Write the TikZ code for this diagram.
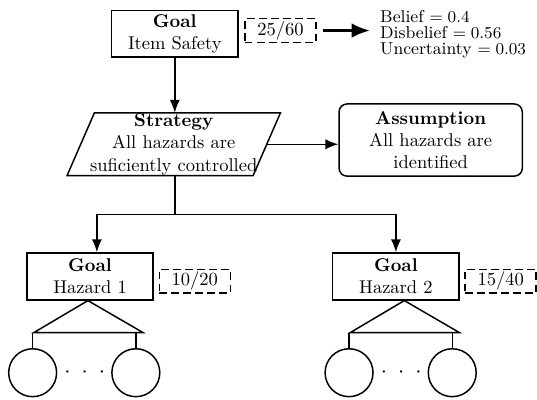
\documentclass[tikz,border=0pt]{standalone}
\usepackage{amsmath}
\usepackage{amssymb}
\usepackage{tikz}
\usetikzlibrary{arrows,arrows.meta,shapes,calc,positioning}
\tikzstyle{edge}  =[-{Latex[length=7pt,width=5.5pt]}, line width=0.8pt]
\tikzstyle{link}  =[line width=0.8pt]
\tikzstyle{goal}  =[rectangle, draw, line width=0.8pt, align=center,
                    minimum width=2.4cm, minimum height=0.89cm,
                    inner sep=1pt]
\tikzstyle{strat} =[rectangle, align=center, minimum width=3.52cm,
                    minimum height=1.18cm, inner sep=0pt]
\tikzstyle{assum} =[rectangle, draw, rounded corners=0.15cm,
                    line width=0.8pt, align=center,
                    minimum width=3.48cm, minimum height=1.37cm]
\tikzstyle{ratio} =[rectangle, draw, dash pattern=on 4pt off 2.5pt,
                    line width=0.8pt, minimum width=1.35cm,
                    minimum height=0.45cm, inner sep=1pt]
\tikzstyle{leaf}  =[circle, draw, line width=0.8pt,
                    minimum size=0.91cm, inner sep=0pt]

\begin{document}
\begin{tikzpicture}
\useasboundingbox (0,0) rectangle (10.20,-7.58);
%%%%%%%%%%%%%%%%%%%%%%%%%%%%%%%%%%%%%%%%%%%%%%%%
%%%%%%%%%%         Top Goal           %%%%%%%%%%
%%%%%%%%%%%%%%%%%%%%%%%%%%%%%%%%%%%%%%%%%%%%%%%%
\node (g0) [goal] at (3.32,-0.64) {\textbf{Goal}\\Item Safety};
\node (v0) [ratio] at (5.33,-0.58) {$25/60$};
\node (op) [anchor=west, align=left, inner sep=1pt,
            font={\fontsize{9.3}{8.9}\selectfont}] at (7.18,-0.65)
      {Belief $= 0.4$\\Disbelief $= 0.56$\\Uncertainty $= 0.03$};
\draw [-{Latex[length=10pt,width=8pt]}, line width=1.8pt,
       shorten <=0.11cm, shorten >=0.15cm] (v0.east) -- (v0.east -| op.west);

%%%%%%%%%%%%%%%%%%%%%%%%%%%%%%%%%%%%%%%%%%%%%%%%
%%%%%%%%%%    Strategy & Assumption   %%%%%%%%%%
%%%%%%%%%%%%%%%%%%%%%%%%%%%%%%%%%%%%%%%%%%%%%%%%
\node (strat) [strat] at (3.30,-2.74)
      {\textbf{Strategy}\\All hazards are\\suficiently controlled};
\draw [link] ($(strat.north west)+(0.26,0)$) -- ($(strat.north east)+(0.26,0)$)
          -- ($(strat.south east)-(0.26,0)$) -- ($(strat.south west)-(0.26,0)$)
          -- cycle;
\node (as) [assum] at (8.18,-2.66)
      {\textbf{Assumption}\\All hazards are\\identified};

\draw [edge] (g0.south) -- (g0.south |- strat.north);
\draw [edge] (strat.east) -- (strat.east -| as.west);

\coordinate (br) at (3.32,-4.07);
\draw [link] (g0.south |- strat.south) -- (br);

%%%%%%%%%%%%%%%%%%%%%%%%%%%%%%%%%%%%%%%%%%%%%%%%
%%%%%%%%%%         Hazard 1           %%%%%%%%%%
%%%%%%%%%%%%%%%%%%%%%%%%%%%%%%%%%%%%%%%%%%%%%%%%
\begin{scope}
\node (g1) [goal] at (1.71,-5.25) {\textbf{Goal}\\Hazard 1};
\node (v1) [ratio] at (3.70,-5.34) {$10/20$};

\coordinate (t1) at ([xshift=-0.04cm]g1.south);
\coordinate (b1) at ($(t1)+(0,-0.61)$);
\draw [link] (t1) -- ++(-1.03,-0.61) -- ++(2.08,0) -- cycle;
\foreach \i/\dx in {a/-1.05,b/0.91}{
	\node (c1\i) [leaf] at ($(t1)+(\dx,-1.37)$){};
	\draw [link] (c1\i.north) -- (c1\i.north |- b1);
}
\node (d1) [inner sep=0pt] at ($(t1)+(-0.06,-1.37)$)
      {\large$\cdot\;\cdot\;\cdot$};
\end{scope}

%%%%%%%%%%%%%%%%%%%%%%%%%%%%%%%%%%%%%%%%%%%%%%%%
%%%%%%%%%%         Hazard 2           %%%%%%%%%%
%%%%%%%%%%%%%%%%%%%%%%%%%%%%%%%%%%%%%%%%%%%%%%%%
\begin{scope}[xshift=5.81cm]
\node (g2) [goal] at (1.71,-5.25) {\textbf{Goal}\\Hazard 2};
\node (v2) [ratio] at (3.70,-5.34) {$15/40$};

\coordinate (t2) at ([xshift=0.16cm]g2.south);
\coordinate (b2) at ($(t2)+(0,-0.61)$);
\draw [link] (t2) -- ++(-1.03,-0.61) -- ++(2.08,0) -- cycle;
\foreach \i/\dx in {a/-1.05,b/0.91}{
	\node (c2\i) [leaf] at ($(t2)+(\dx,-1.37)$){};
	\draw [link] (c2\i.north) -- (c2\i.north |- b2);
}
\node (d2) [inner sep=0pt] at ($(t2)+(-0.06,-1.37)$)
      {\large$\cdot\;\cdot\;\cdot$};
\end{scope}

\draw [edge] (br) -| ([xshift=0.13cm]g1.north);
\draw [edge] (br) -| (g2.north);

\end{tikzpicture}
\end{document}
